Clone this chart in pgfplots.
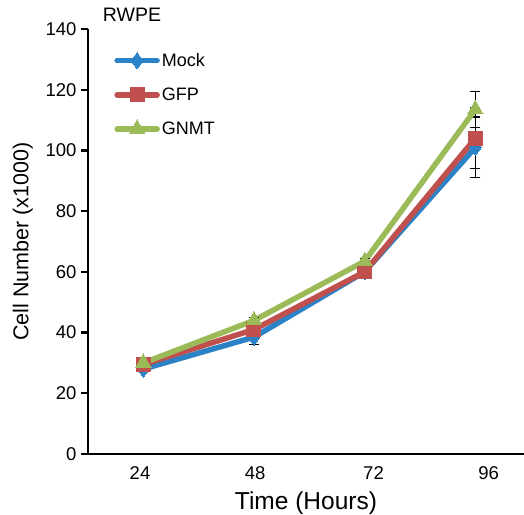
\documentclass[border=0pt]{standalone}
\usepackage{fontspec}
\setmainfont{Liberation Sans}
\usepackage{pgfplots}
\pgfplotsset{compat=1.18}

\definecolor{mockblue}{HTML}{2B82C6}
\definecolor{gfpred}{HTML}{C0504D}
\definecolor{gnmtgreen}{HTML}{9BBB59}

\begin{document}
\begin{tikzpicture}[x=1pt,y=1pt]
\begin{axis}[
  at={(0,0)}, anchor=south west,
  scale only axis, width=436pt, height=425pt,
  xmin=-0.5, xmax=3.44, ymin=0, ymax=140,
  axis x line*=bottom, axis y line*=left,
  axis line style={line width=2.6pt, black},
  ytick={0,20,...,140},
  xtick={-0.03,1.01,2.08,3.12}, xticklabels={24,48,72,96},
  major x tick style={draw=none},
  extra x ticks={-0.5,0.5,1.5,2.5}, extra x tick labels={},
  extra x tick style={major tick length=6pt, tick align=outside, tick style={line width=2.2pt, black}},
  tick align=outside, major tick length=7pt,
  tick style={line width=2.2pt, black},
  ticklabel style={font=\fontsize{18.5}{20}\selectfont},
  /pgf/number format/assume math mode=true,
  yticklabel style={xshift=-1pt},
  xticklabel style={yshift=-2pt},
  xlabel={Time (Hours)}, ylabel={Cell Number (x1000)},
  xlabel style={font=\fontsize{24.5}{26}\selectfont, yshift=8pt},
  ylabel style={font=\fontsize{21.5}{23}\selectfont, yshift=6pt},
  legend style={draw=none, fill=none, at={(0.06,0.948)}, anchor=north west,
    font=\fontsize{18}{20}\selectfont, row sep=16pt, inner sep=0pt},
  legend cell align=left,
  legend image code/.code={\draw[mark repeat=2,mark phase=2,#1] plot coordinates {(0pt,0pt)(20pt,0pt)(40pt,0pt)};},
  error bars/error bar style={line width=1.3pt, black},
  error bars/error mark options={rotate=90, mark size=5pt, line width=1.3pt, black},
  clip=false,
]
\addplot[mockblue, line width=5.5pt, line cap=round, line join=round,
  mark=diamond*, mark size=8pt, mark options={line width=0pt, fill=mockblue},
  error bars/.cd, y dir=both, y explicit]
  coordinates {(0,28) +- (0,0.5) (1,38.5) +- (0,2.5) (2,60) +- (0,1) (3,101) +- (0,10)};
\addlegendentry{Mock}
\addplot[gfpred, line width=5.5pt, line cap=round, line join=round,
  mark=square*, mark size=7pt, mark options={line width=0pt, fill=gfpred},
  error bars/.cd, y dir=both, y explicit]
  coordinates {(0,29.5) +- (0,0.5) (1,41) +- (0,1) (2,60) +- (0,1) (3,104) +- (0,10)};
\addlegendentry{GFP}
\addplot[gnmtgreen, line width=5.5pt, line cap=round, line join=round,
  mark=triangle*, mark size=9pt, mark options={line width=0pt, fill=gnmtgreen},
  error bars/.cd, y dir=both, y explicit]
  coordinates {(0,30) +- (0,0.5) (1,44) +- (0,1) (2,63.5) +- (0,1) (3,113.5) +- (0,6)};
\addlegendentry{GNMT}
\node[font=\fontsize{19.5}{21}\selectfont, anchor=center] at (rel axis cs:0.101,1.034) {RWPE};
\end{axis}
\pgfresetboundingbox
\path[use as bounding box] (-88pt,-60pt) rectangle (436pt,454pt);
\end{tikzpicture}
\end{document}
